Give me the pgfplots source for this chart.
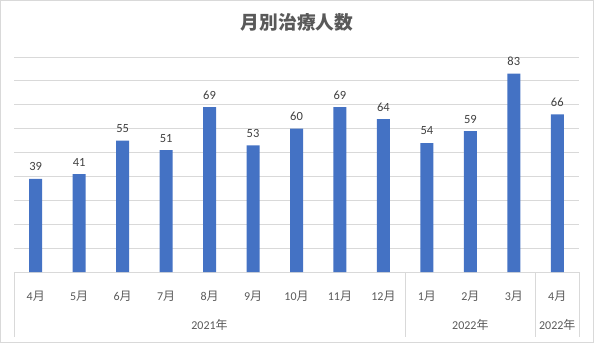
\documentclass[border=0pt]{standalone}
\usepackage{fontspec}
\setmainfont{Carlito}
\newfontfamily\cjk{Noto Sans CJK JP}
\usepackage{pgfplots}
\pgfplotsset{compat=1.18}
\definecolor{barblue}{HTML}{4472C4}
\definecolor{gridc}{HTML}{D9D9D9}
\definecolor{txt}{HTML}{595959}
\definecolor{lbl}{HTML}{404040}
\newcommand{\M}[1]{#1{\cjk 月}}
\newcommand{\Y}[1]{#1{\cjk 年}}
\begin{document}
\begin{tikzpicture}
\path[use as bounding box] (-14pt,-71pt) rectangle (580pt,272pt);
\begin{axis}[
  at={(0pt,0pt)}, anchor=south west,
  scale only axis, width=565pt, height=215pt,
  xmin=-0.5, xmax=12.5, ymin=0, ymax=90,
  ybar, bar width=13pt,
  axis line style={draw=none},
  tick style={draw=none},
  ytick={0,10,...,90}, yticklabels={},
  ymajorgrids, grid style={gridc, line width=0.8pt},
  xtick={0,...,12},
  xticklabels={\M{4},\M{5},\M{6},\M{7},\M{8},\M{9},\M{10},\M{11},\M{12},\M{1},\M{2},\M{3},\M{4}},
  xticklabel style={font=\fontsize{12}{14}\selectfont, text=txt, anchor=center, yshift=-20pt},
  /pgf/number format/assume math mode=true,
  nodes near coords,
  every node near coord/.append style={font=\fontsize{12.5}{14}\selectfont, text=lbl, anchor=center, yshift=12pt},
  clip=false,
]
\addplot[fill=barblue, draw=none] coordinates {(0,39)(1,41)(2,55)(3,51)(4,69)(5,53)(6,60)(7,69)(8,64)(9,54)(10,59)(11,83)(12,66)};
\draw[gridc, line width=0.8pt] (axis cs:-0.5,0) -- ([yshift=-65pt]axis cs:-0.5,0);
\draw[gridc, line width=0.8pt] (axis cs:8.5,0) -- ([yshift=-65pt]axis cs:8.5,0);
\draw[gridc, line width=0.8pt] (axis cs:11.5,0) -- ([yshift=-65pt]axis cs:11.5,0);
\draw[gridc, line width=0.8pt] (axis cs:12.5,0) -- ([yshift=-65pt]axis cs:12.5,0);
\node[text=txt, font=\fontsize{12}{14}\selectfont, yshift=-53pt] at (axis cs:4,0) {\Y{2021}};
\node[text=txt, font=\fontsize{12}{14}\selectfont, yshift=-53pt] at (axis cs:10,0) {\Y{2022}};
\node[text=txt, font=\fontsize{12}{14}\selectfont, yshift=-53pt] at (axis cs:12,0) {\Y{2022}};
\end{axis}
\node[text=txt, font=\fontsize{18.7}{22}\selectfont\cjk\bfseries] at (283pt,250pt) {月別治療人数};
\draw[gridc, line width=1pt] (-13.5pt,-70.5pt) rectangle (579.5pt,271.5pt);
\end{tikzpicture}
\end{document}
